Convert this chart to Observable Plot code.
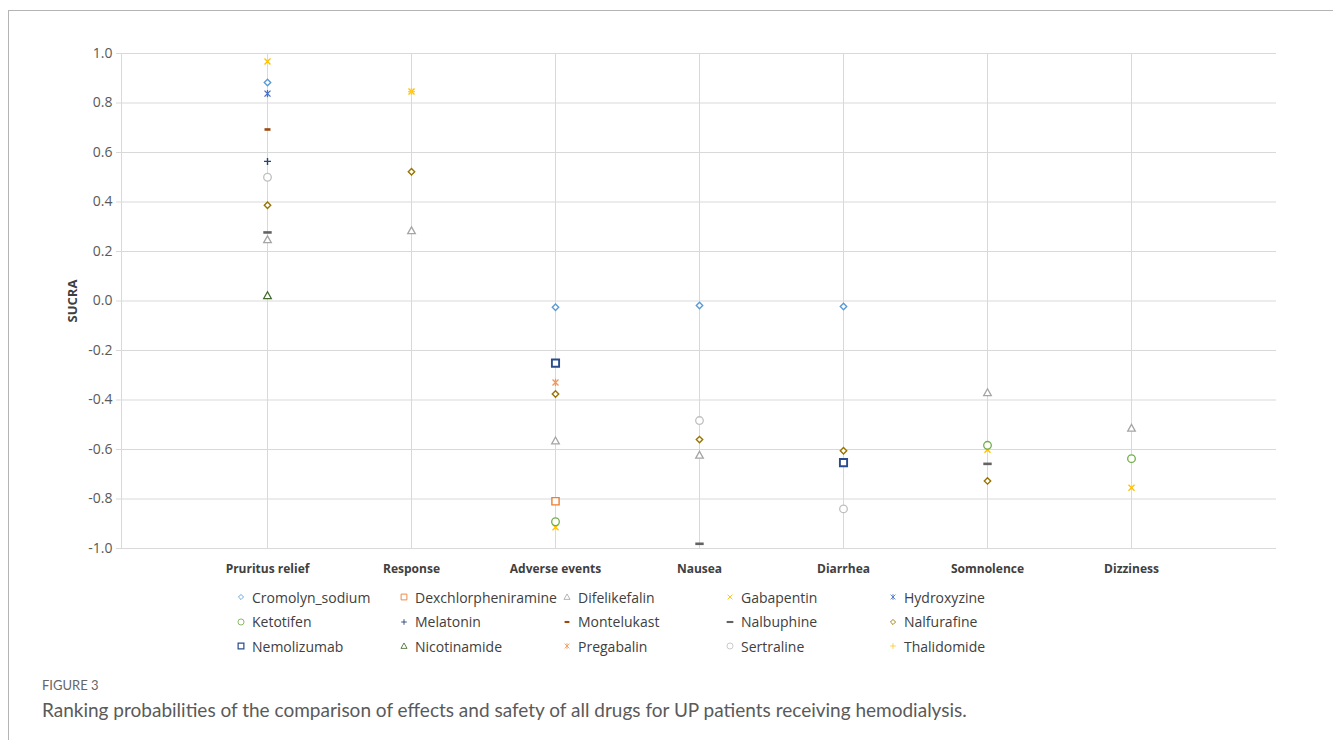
<!DOCTYPE html>
<html>
<head>
<meta charset="utf-8">
<script src="https://cdn.jsdelivr.net/npm/d3@7"></script>
<script src="https://cdn.jsdelivr.net/npm/@observablehq/plot@0.6"></script>
<style>
  html, body { margin: 0; padding: 0; background: #fff; }
  body { width: 1333px; height: 740px; overflow: hidden; position: relative; font-family: "Open Sans", "Noto Sans", sans-serif; }
  #box { position: absolute; left: 8px; top: 10px; width: 1400px; height: 800px; border-left: 1.5px solid #b4b4b4; border-top: 1.5px solid #b4b4b4; }
  #chart { position: absolute; left: 0; top: 0; }
  #legend { position: absolute; left: 235px; top: 585px; display: grid; grid-template-columns: repeat(5, 163px); grid-auto-rows: 24.5px; }
  .item { display: flex; align-items: center; font-size: 14px; color: #404040; white-space: nowrap; }
  .item svg { width: 12px; height: 12px; margin-right: 5px; flex: none; }
  #fig { position: absolute; left: 42px; top: 677px; font-family: Lato, sans-serif; font-size: 13px; color: #666; }
  #cap { position: absolute; left: 42px; top: 698px; font-family: Lato, sans-serif; font-size: 19px; color: #5a5a5a; }
</style>
</head>
<body>
<div id="box"></div>
<div id="chart"></div>
<div id="legend"></div>
<div id="fig">FIGURE 3</div>
<div id="cap">Ranking probabilities of the comparison of effects and safety of all drugs for UP patients receiving hemodialysis.</div>
<script>
// ---- data ----
const outcomes = ["Pruritus relief", "Response", "Adverse events", "Nausea", "Diarrhea", "Somnolence", "Dizziness"];
const yTicks = [-1.0, -0.8, -0.6, -0.4, -0.2, 0.0, 0.2, 0.4, 0.6, 0.8, 1.0];

const drugNames = ["Cromolyn_sodium", "Dexchlorpheniramine", "Difelikefalin", "Gabapentin", "Hydroxyzine",
  "Ketotifen", "Melatonin", "Montelukast", "Nalbuphine", "Nalfurafine",
  "Nemolizumab", "Nicotinamide", "Pregabalin", "Sertraline", "Thalidomide"];
const drugColors = ["#5B9BD5", "#ED7D31", "#A5A5A5", "#FFC000", "#4472C4",
  "#70AD47", "#264478", "#9E480E", "#636363", "#997300",
  "#2B4C8C", "#43682B", "#F1975A", "#BFBFBF", "#FFCD33"];
const drugShapes = ["diamond", "square", "triangle", "times", "asterisk",
  "circle", "plus", "dash", "dashWide", "diamond",
  "squareBold", "triangle", "asterisk", "circle", "plus"];

// SUCRA values, one per outcome (null = not reported)
const cromolynSodium      = [0.883, null, -0.025, -0.018, -0.022, null, null];
const dexchlorpheniramine = [null, null, -0.809, null, null, null, null];
const difelikefalin       = [0.248, 0.284, -0.565, -0.623, null, -0.370, -0.514];
const gabapentin          = [0.968, 0.846, -0.914, null, null, -0.601, -0.755];
const hydroxyzine         = [0.838, null, null, null, null, null, null];
const ketotifen           = [null, null, -0.892, null, null, -0.583, -0.637];
const melatonin           = [0.564, null, null, null, null, null, null];
const montelukast         = [0.693, null, null, null, null, null, null];
const nalbuphine          = [0.277, null, null, -0.981, null, -0.658, null];
const nalfurafine         = [0.387, 0.522, -0.376, -0.560, -0.605, -0.727, null];
const nemolizumab         = [null, null, -0.251, null, -0.653, null, null];
const nicotinamide        = [0.022, null, null, null, null, null, null];
const pregabalin          = [null, null, -0.329, null, null, null, null];
const sertraline          = [0.500, null, null, -0.483, -0.840, null, null];
const thalidomide         = [null, 0.846, null, null, null, null, null];

const drugValues = [cromolynSodium, dexchlorpheniramine, difelikefalin, gabapentin, hydroxyzine,
  ketotifen, melatonin, montelukast, nalbuphine, nalfurafine,
  nemolizumab, nicotinamide, pregabalin, sertraline, thalidomide];

// ---- marker shapes ----
const shapeDefs = {
  diamond:   {draw(c) { const h = 3.2; c.moveTo(0, -h); c.lineTo(h, 0); c.lineTo(0, h); c.lineTo(-h, 0); c.closePath(); }, filled: false, sw: 1.4},
  square:    {draw(c) { const s = 3.6; c.rect(-s, -s, 2 * s, 2 * s); }, filled: false, sw: 1.4},
  squareBold:{draw(c) { const s = 3.6; c.rect(-s, -s, 2 * s, 2 * s); }, filled: false, sw: 1.9},
  triangle:  {draw(c) { c.moveTo(0, -3.8); c.lineTo(3.8, 3); c.lineTo(-3.8, 3); c.closePath(); }, filled: false, sw: 1.3},
  circle:    {draw(c) { const r = 3.8; c.moveTo(r, 0); c.arc(0, 0, r, 0, 2 * Math.PI); c.closePath(); }, filled: false, sw: 1.3},
  times:     {draw(c) { const s = 3; c.moveTo(-s, -s); c.lineTo(s, s); c.moveTo(s, -s); c.lineTo(-s, s); }, filled: false, sw: 1.4},
  plus:      {draw(c) { const s = 3.5; c.moveTo(-s, 0); c.lineTo(s, 0); c.moveTo(0, -s); c.lineTo(0, s); }, filled: false, sw: 1.4},
  asterisk:  {draw(c) { const s = 3; c.moveTo(-s, -s); c.lineTo(s, s); c.moveTo(s, -s); c.lineTo(-s, s); c.moveTo(0, -3.6); c.lineTo(0, 3.6); }, filled: false, sw: 1.3},
  dash:      {draw(c) { c.rect(-3, -1.3, 6, 2.6); }, filled: true, sw: 0},
  dashWide:  {draw(c) { c.rect(-4.2, -1.3, 8.4, 2.6); }, filled: true, sw: 0}
};

// ---- chart ----
const dotMarks = drugNames.map((name, i) => {
  const rows = outcomes.map((o, j) => ({outcome: o, value: drugValues[i][j]})).filter(d => d.value !== null);
  const def = shapeDefs[drugShapes[i]];
  return Plot.dot(rows, {
    x: "outcome", y: "value",
    symbol: {draw: def.draw},
    stroke: def.filled ? "none" : drugColors[i],
    strokeWidth: def.sw,
    fill: def.filled ? drugColors[i] : "white"
  });
});

const chart = Plot.plot({
  width: 1333,
  height: 590,
  marginTop: 53,
  marginBottom: 42,
  marginLeft: 121,
  marginRight: 57,
  style: {fontFamily: "'Open Sans', 'Noto Sans', sans-serif", background: "transparent"},
  x: {type: "point", domain: outcomes, padding: 1},
  y: {domain: [-1, 1]},
  marks: [
    Plot.gridY(yTicks, {stroke: "#d9d9d9", strokeOpacity: 1}),
    Plot.gridX({stroke: "#d9d9d9", strokeOpacity: 1}),
    Plot.frame({anchor: "left", stroke: "#d9d9d9"}),
    Plot.axisY(yTicks, {tickSize: 5, tickPadding: 4, tickFormat: d => d.toFixed(1), stroke: "#d9d9d9", fill: "#595959",
      fontSize: 14, label: "SUCRA", labelAnchor: "center", labelArrow: "none", labelOffset: 54}),
    Plot.axisX({tickSize: 0, tickPadding: 16, fontWeight: "bold", fill: "#404040", fontSize: 12, label: null}),
    ...dotMarks
  ]
});
document.getElementById("chart").appendChild(chart);
d3.select(chart).selectAll('g[aria-label="y-axis label"]').attr("font-weight", "bold").attr("fill", "#404040").attr("font-size", 13);

// ---- legend ----
const legend = d3.select("#legend");
drugNames.forEach((name, i) => {
  const def = shapeDefs[drugShapes[i]];
  const item = legend.append("div").attr("class", "item");
  const svg = item.append("svg").attr("viewBox", "-6 -6 12 12");
  const p = d3.path();
  def.draw(p);
  svg.append("path").attr("d", p.toString())
    .attr("fill", def.filled ? drugColors[i] : "white")
    .attr("stroke", def.filled ? "none" : drugColors[i])
    .attr("stroke-width", def.sw * 0.8)
    .attr("transform", "scale(0.8)");
  item.append("span").text(name);
});
</script>
</body>
</html>
